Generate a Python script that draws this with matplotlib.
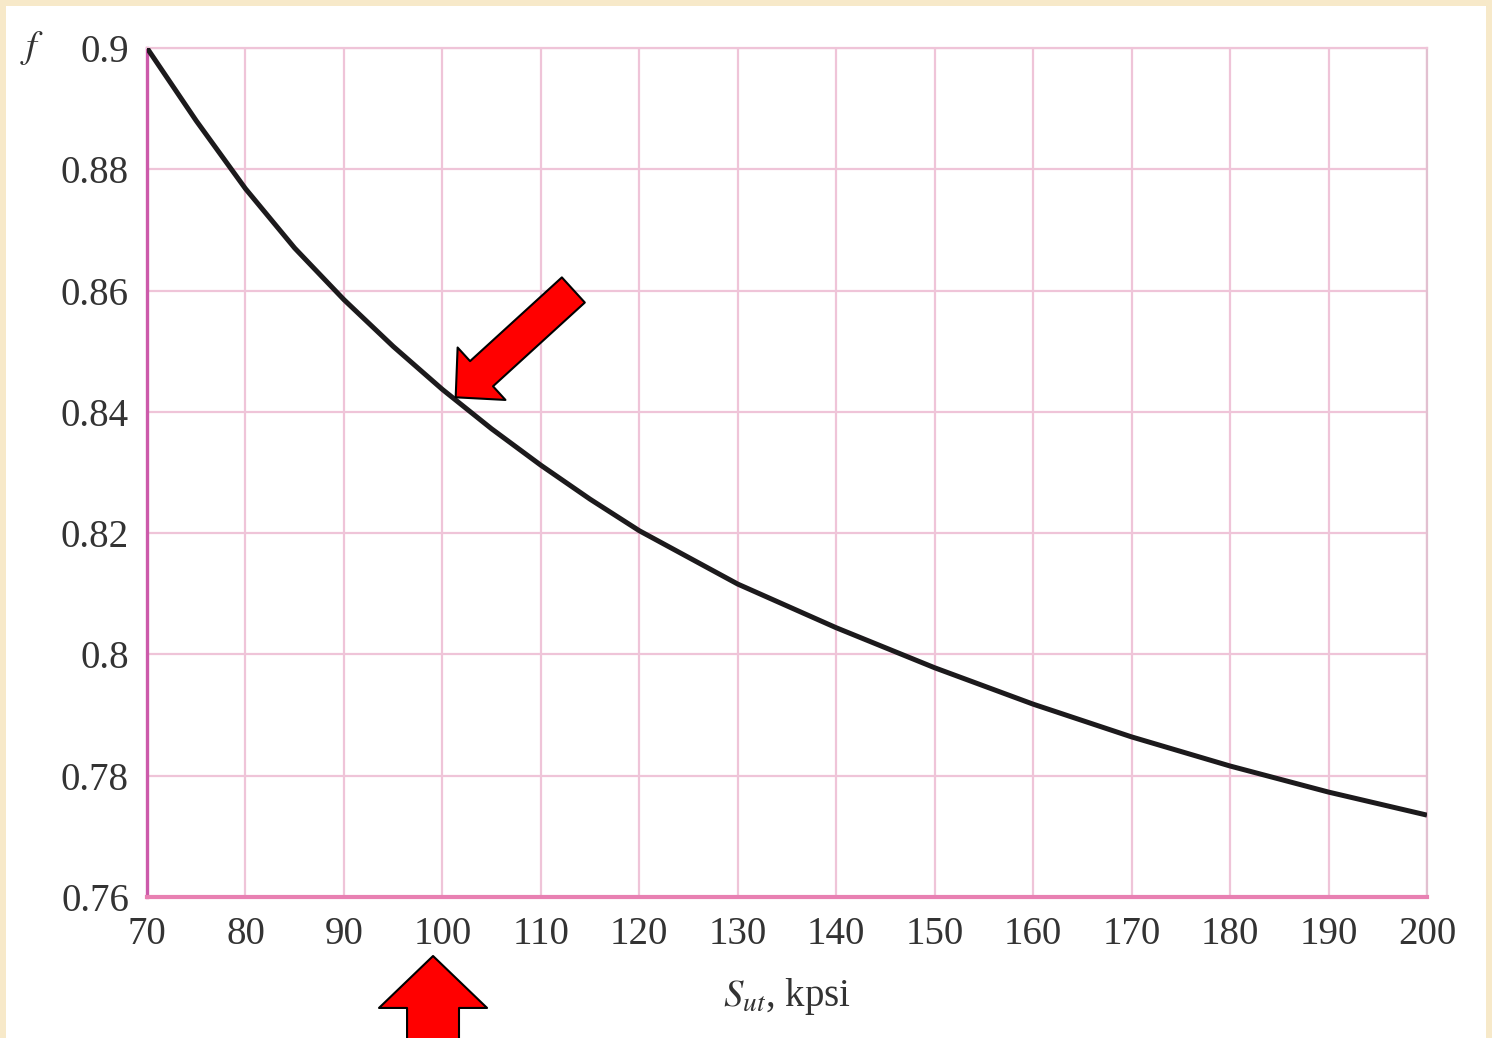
import numpy as np
import matplotlib
matplotlib.use("Agg")
import matplotlib.pyplot as plt
from matplotlib.patches import Rectangle

# fatigue strength fraction f versus ultimate tensile strength
sut_kpsi = [70, 75, 80, 85, 90, 95, 100, 105, 110, 115, 120,
            130, 140, 150, 160, 170, 180, 190, 200]
f_frac = [0.900, 0.8880, 0.8768, 0.8670, 0.8585, 0.8508, 0.8437, 0.8372,
          0.8312, 0.8256, 0.8204, 0.8116, 0.8044, 0.7978, 0.7918,
          0.7864, 0.7816, 0.7773, 0.7735]

x_ticks = list(range(70, 201, 10))
y_ticks = [0.76, 0.78, 0.80, 0.82, 0.84, 0.86, 0.88, 0.90]
y_ticklabels = ["0.76", "0.78", "0.8", "0.82", "0.84", "0.86", "0.88", "0.9"]

plt.rcParams["font.family"] = ["Liberation Serif", "DejaVu Serif"]
plt.rcParams["mathtext.fontset"] = "stix"

W, H = 1492, 1038
fig = plt.figure(figsize=(W / 100, H / 100), dpi=100)
fig.patch.set_facecolor("#f7e9c9")
# white sheet inside the cream frame
fig.patches.append(Rectangle((6 / W, 0), 1480 / W, 1 - 6 / H, transform=fig.transFigure,
                             facecolor="white", edgecolor="none", zorder=-5))

ax = fig.add_axes([147 / W, 1 - 897 / H, 1280 / W, 849 / H])
ax.set_facecolor("white")

grid_col = "#efc4d8"
ax.set_xlim(70, 200)
ax.set_ylim(0.76, 0.90)
ax.set_xticks(x_ticks)
ax.set_yticks(y_ticks)
ax.set_yticklabels(y_ticklabels)
ax.grid(True, color=grid_col, lw=1.6)
ax.set_axisbelow(True)
ax.tick_params(length=0, labelsize=28, labelcolor="#333333")
ax.tick_params(axis="x", pad=14)
ax.tick_params(axis="y", pad=13)

ax.spines["top"].set_color(grid_col)
ax.spines["top"].set_linewidth(1.6)
ax.spines["right"].set_color("#e2c0d0")
ax.spines["right"].set_linewidth(1.6)
ax.spines["left"].set_color("#cc5aaa")
ax.spines["left"].set_linewidth(2.4)
ax.spines["bottom"].set_color("#e880b2")
ax.spines["bottom"].set_linewidth(3.0)

ax.plot(sut_kpsi, f_frac, color="#1c1a1c", lw=3.6, solid_capstyle="butt",
        solid_joinstyle="round", zorder=3)

ax.set_xlabel(r"$S_{ut}$, kpsi", fontsize=28, color="#333333", labelpad=16)
ax.text(-0.09, 1.0, r"$f$", transform=ax.transAxes, fontsize=28, color="#333333",
        ha="center", va="center")

# red block arrows pointing at Sut = 100 kpsi
px = 1 / 1.389
diag_style = "simple,head_length=%.1f,head_width=%.1f,tail_width=%.1f" % (35 * px, 71 * px, 34 * px)
ax.annotate("", xy=(101.35, 0.8424), xytext=(113.3, 0.8601),
            arrowprops=dict(arrowstyle=diag_style, fc="#ff0000", ec="black", lw=1.5,
                            shrinkA=0, shrinkB=0, mutation_scale=1),
            zorder=5)

up_style = "simple,head_length=%.1f,head_width=%.1f,tail_width=%.1f" % (52 * px, 108 * px, 52 * px)
ax.annotate("", xy=(99.05, H - 956), xytext=(99.05, -30),
            xycoords=("data", "figure pixels"), textcoords=("data", "figure pixels"),
            arrowprops=dict(arrowstyle=up_style, fc="#ff0000", ec="black", lw=1.5,
                            shrinkA=0, shrinkB=0, mutation_scale=1),
            annotation_clip=False, zorder=5)

fig.savefig("out.png", dpi=100, facecolor=fig.get_facecolor())
